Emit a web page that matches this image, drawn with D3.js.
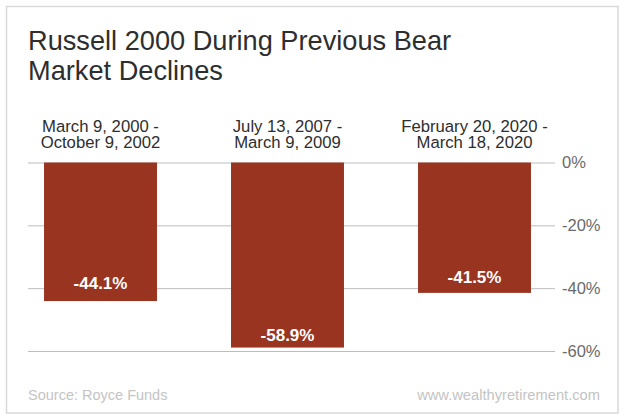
<!DOCTYPE html>
<html>
<head>
<meta charset="utf-8">
<script src="https://cdn.jsdelivr.net/npm/d3@7"></script>
<style>
  html, body { margin: 0; padding: 0; background: #fff; }
  svg { display: block; font-family: "Liberation Sans", Arial, sans-serif; }
</style>
</head>
<body>
<svg id="canvas" width="624" height="420"></svg>
<script>
const titleLines = ['Russell 2000 During Previous Bear', 'Market Declines']
const periods = ['March 9, 2000 -|October 9, 2002', 'July 13, 2007 -|March 9, 2009', 'February 20, 2020 -|March 18, 2020']
const declines = [-44.1, -58.9, -41.5]
const yTicks = [0, -20, -40, -60]
const sourceText = 'Source: Royce Funds'
const siteText = 'www.wealthyretirement.com'

// value labels don't sit at the same distance from each bar end in the original
const labelGaps = [12.5, 6.5, 9.5]

let canvas = d3.select('#canvas')

// outer frame
canvas.append('rect')
    .attr('x', 6.5).attr('y', 6.5)
    .attr('width', 611.5).attr('height', 406.5)
    .attr('fill', '#fff')
    .attr('stroke', '#d9d9d9')
    .attr('stroke-width', 1.5)

let xScale = d3.scaleBand()
    .domain(periods)
    .range([7, 568])
    .paddingInner(0.396)
    .paddingOuter(0.198)

let yScale = d3.scaleLinear()
    .domain([0, -60])
    .range([162.5, 351])

// gridlines + right labels
let yAxis = d3.axisRight(yScale)
    .tickValues(yTicks)
    .tickSize(-527)
    .tickPadding(7)
    .tickFormat((d) => d + '%')

let axisG = canvas.append('g')
    .attr('transform', 'translate(555, 0)')
    .call(yAxis)
axisG.select('.domain').remove()
axisG.selectAll('line').attr('stroke', '#bdbdbd').attr('stroke-width', 1)
axisG.selectAll('text')
    .attr('fill', '#6a6a6a')
    .style('font-size', '16.5px')
    .style('font-family', '"Liberation Sans", Arial, sans-serif')

canvas.selectAll('rect.bar')
    .data(declines)
    .enter()
    .append('rect')
    .attr('class', 'bar')
    .attr('x', (d, i) => xScale(periods[i]))
    .attr('y', yScale(0))
    .attr('width', xScale.bandwidth())
    .attr('height', (d) => yScale(d) - yScale(0))
    .attr('fill', '#983420')

canvas.selectAll('text.value')
    .data(declines)
    .enter()
    .append('text')
    .attr('class', 'value')
    .attr('x', (d, i) => xScale(periods[i]) + xScale.bandwidth() / 2)
    .attr('y', (d, i) => yScale(d) - labelGaps[i])
    .attr('text-anchor', 'middle')
    .attr('fill', '#fff')
    .attr('font-weight', 'bold')
    .attr('font-size', 17)
    .text((d) => d.toFixed(1) + '%')

// period labels above bars
periods.forEach((p) => {
    p.split('|').forEach((line, i) => {
        canvas.append('text')
            .attr('x', xScale(p) + xScale.bandwidth() / 2)
            .attr('y', 132 + i * 16)
            .attr('text-anchor', 'middle')
            .attr('fill', '#2e2e2e')
            .attr('font-size', 16.7)
            .text(line)
    })
})

titleLines.forEach((line, i) => {
    canvas.append('text')
        .attr('x', 28)
        .attr('y', 50 + i * 30)
        .attr('fill', '#2e2e2e')
        .attr('font-size', 27.2)
        .text(line)
})

canvas.append('text')
    .attr('x', 28).attr('y', 400)
    .attr('fill', '#c4c4c4')
    .attr('font-size', 14.5)
    .text(sourceText)

canvas.append('text')
    .attr('x', 600).attr('y', 400)
    .attr('text-anchor', 'end')
    .attr('fill', '#c4c4c4')
    .attr('font-size', 14.7)
    .text(siteText)
</script>
</body>
</html>
